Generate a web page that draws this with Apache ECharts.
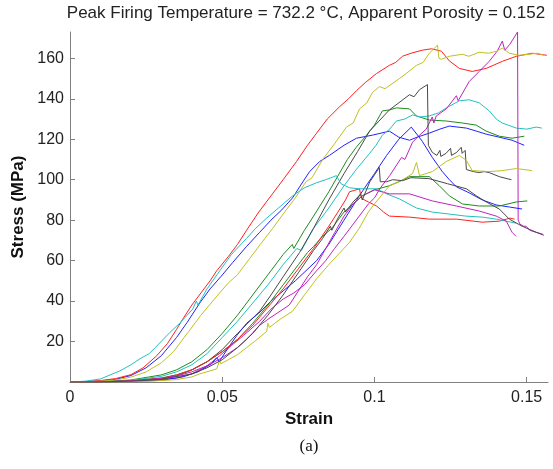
<!DOCTYPE html>
<html><head><meta charset="utf-8">
<script src="https://cdn.jsdelivr.net/npm/echarts@6/dist/echarts.min.js"></script>
<style>html,body{margin:0;padding:0;background:#fff}#c{width:553px;height:469px}</style>
</head><body><div id="c"></div>
<script>
const titleText = 'Peak Firing Temperature = 732.2 \u00B0C, Apparent Porosity = 0.152';
const xName = 'Strain';
const yName = 'Stress (MPa)';
const panelLabel = '(a)';
const xTicks = [0, 0.05, 0.1, 0.15];
const yTicks = [20, 40, 60, 80, 100, 120, 140, 160];

// [strain, stress] pairs
const blueA = [[0,0],[0.005,0.2],[0.01,0.5],[0.015,1.3],[0.02,3.2],[0.025,7],[0.03,13],[0.035,22],[0.0385,29.5],[0.0426,39],[0.046,46],[0.0495,52],[0.0534,59],[0.058,67],[0.0623,74],[0.066,80],[0.0695,85],[0.0731,91],[0.0765,99],[0.0787,104],[0.082,109],[0.0852,112],[0.09,117],[0.0941,120.5],[0.0993,122],[0.1049,124],[0.108,121],[0.1115,119.5],[0.114,121],[0.118,123],[0.1215,125],[0.1246,126.5],[0.1302,125.5],[0.1335,124],[0.1367,122.5],[0.141,121],[0.1452,119.5],[0.1492,117]];
const greenA = [[0,0],[0.01,0.2],[0.02,1],[0.03,3.5],[0.035,6],[0.04,10],[0.045,16],[0.05,24],[0.055,33],[0.06,43],[0.065,53],[0.07,63],[0.073,68],[0.0735,66],[0.077,75],[0.08,82],[0.085,94],[0.0911,110],[0.094,116],[0.0974,122],[0.1,127],[0.1026,134],[0.105,134.5],[0.1072,135.5],[0.1115,135],[0.1138,131.5],[0.118,129.5],[0.1236,129],[0.1289,128],[0.1334,127],[0.1367,124],[0.141,121.5],[0.1452,120.5],[0.1492,121.5]];
const redA = [[0,0],[0.005,0.2],[0.01,0.7],[0.015,1.7],[0.02,3.6],[0.024,7],[0.0285,13],[0.032,19],[0.035,26],[0.037,31],[0.04,38],[0.043,44],[0.046,50],[0.0482,55],[0.052,62],[0.055,68],[0.058,75],[0.062,84],[0.066,92],[0.07,100],[0.0744,109],[0.078,117],[0.081,123],[0.0845,130],[0.0885,136],[0.0915,140],[0.0941,144],[0.097,148],[0.1007,152.5],[0.1049,156.5],[0.107,158],[0.1092,161],[0.112,162.5],[0.1157,164],[0.1187,164.7],[0.122,163.5],[0.1246,158.7],[0.1279,155],[0.1321,153.5],[0.1367,155],[0.142,158.5],[0.1466,161],[0.1518,162.5],[0.1566,161.5]];
const cyanA = [[0,0],[0.01,0.2],[0.02,0.8],[0.03,2.8],[0.035,5],[0.04,8.5],[0.045,14],[0.05,22],[0.055,30],[0.06,39],[0.065,48],[0.07,58],[0.0745,66],[0.076,65],[0.08,76],[0.085,86],[0.09,97],[0.094,105],[0.0984,113],[0.1005,117],[0.1026,122],[0.105,125],[0.1072,129],[0.11,130],[0.1125,132],[0.115,131],[0.118,131.5],[0.121,133],[0.1236,135.5],[0.1279,139],[0.1311,139.5],[0.1344,138],[0.1377,134],[0.14,130],[0.142,128],[0.1466,125.5],[0.15,125],[0.1531,126],[0.155,125.5]];
const magentaA = [[0,0],[0.01,0.1],[0.02,0.5],[0.03,1.2],[0.035,2],[0.04,4],[0.045,8],[0.0492,13],[0.053,18],[0.057,23],[0.0623,30],[0.066,36],[0.07,41],[0.0735,44],[0.077,48],[0.081,55],[0.084,60],[0.0869,66],[0.09,72],[0.094,80],[0.098,88],[0.1,91],[0.102,96],[0.105,102],[0.1089,111],[0.11,110],[0.1125,118.5],[0.1148,122],[0.117,125],[0.119,131],[0.1195,128],[0.1203,131.5],[0.1236,135],[0.1269,141.5],[0.1275,139],[0.1311,148.5],[0.1344,153.5],[0.1377,158.5],[0.1403,163.5],[0.142,168.5],[0.1428,164],[0.1445,167],[0.147,173],[0.1472,80],[0.1478,78],[0.149,77],[0.1498,77],[0.151,75],[0.1531,74],[0.1557,72.5]];
const yellowA = [[0,0],[0.005,0.1],[0.01,0.4],[0.015,1],[0.02,2.4],[0.025,5],[0.03,9.5],[0.034,15],[0.039,25],[0.043,33],[0.048,42],[0.052,49],[0.055,53],[0.059,61],[0.0625,68],[0.0666,76],[0.07,83],[0.074,91],[0.0775,99],[0.0795,101],[0.083,110],[0.087,118],[0.0908,126],[0.093,128],[0.0951,135],[0.0975,138],[0.0993,143],[0.1016,146],[0.1035,145],[0.1082,150],[0.11,152],[0.1138,156.5],[0.116,158],[0.118,162.5],[0.1207,166.5],[0.1212,160],[0.122,159.5],[0.1246,161],[0.1289,162],[0.131,161],[0.1344,163],[0.1375,162.5],[0.14,163.5],[0.142,165],[0.1443,162.5],[0.1475,161.5],[0.1508,162],[0.1535,162.5],[0.1556,161.5]];
const grayA = [[0,0],[0.01,0.1],[0.02,0.4],[0.03,1.5],[0.035,3],[0.04,6],[0.045,10],[0.05,16],[0.055,24],[0.0623,35],[0.066,43],[0.07,52],[0.0754,64],[0.08,76],[0.085,90],[0.09,103],[0.0945,114],[0.0984,124],[0.1015,129],[0.1049,134.5],[0.108,138],[0.1115,142],[0.113,141],[0.1148,144.5],[0.1174,147],[0.1177,117],[0.119,113.5],[0.1205,112],[0.1215,114.5],[0.1218,111.5],[0.1235,113],[0.125,115.5],[0.1253,112],[0.127,113.5],[0.1285,116],[0.1288,113],[0.1298,114.5],[0.1302,105],[0.1325,104],[0.1344,103.5],[0.136,104],[0.1377,103.5],[0.141,101.5],[0.1436,100.5],[0.145,100]];
const blueB = [[0,0],[0.01,0.1],[0.02,0.3],[0.03,0.8],[0.037,2.5],[0.042,5],[0.0465,9],[0.0482,12],[0.049,10],[0.052,17],[0.0548,23],[0.058,29],[0.062,34],[0.066,40],[0.07,45],[0.074,50],[0.0775,55],[0.081,60],[0.085,68],[0.09,80],[0.095,92],[0.1,103],[0.104,112],[0.108,120],[0.1121,126],[0.1157,119],[0.119,111],[0.1223,104],[0.1246,100],[0.1269,96.5],[0.1311,93.5],[0.1354,90],[0.14,87.5],[0.1443,86.5],[0.1485,85.5]];
const greenB = [[0,0],[0.01,0.1],[0.02,0.6],[0.03,2],[0.035,3.5],[0.04,6],[0.045,10],[0.05,15],[0.055,21],[0.06,29],[0.065,38],[0.07,48],[0.075,58],[0.078,64],[0.08,67],[0.083,72],[0.086,76],[0.088,80],[0.09,84],[0.093,88],[0.096,92],[0.1,95],[0.1049,97],[0.108,99],[0.1115,101.5],[0.118,101.5],[0.1213,97],[0.1246,92],[0.1289,88],[0.1344,87],[0.141,87],[0.1466,89],[0.1502,89.5]];
const redB = [[0,0],[0.01,0.1],[0.02,0.5],[0.03,1.8],[0.035,3.5],[0.04,6],[0.045,10],[0.05,15],[0.055,21],[0.06,28],[0.065,37],[0.07,46],[0.075,56],[0.08,66],[0.085,77],[0.088,84],[0.0905,90],[0.0918,94],[0.0951,95.5],[0.0955,92],[0.0961,90.5],[0.098,89],[0.1007,87],[0.103,84],[0.1049,82],[0.1115,81.5],[0.118,80.5],[0.1269,80.5],[0.1354,79],[0.141,79.5],[0.1445,81],[0.146,80.5]];
const cyanB = [[0,0],[0.005,0.4],[0.01,1.5],[0.0164,5.5],[0.02,8.5],[0.023,11.5],[0.026,14],[0.028,17],[0.0328,24.5],[0.036,29],[0.0403,36],[0.0415,40],[0.042,38],[0.045,46],[0.0492,55],[0.053,63],[0.058,71],[0.061,76],[0.0646,81],[0.07,88],[0.0731,92],[0.077,96],[0.081,98.5],[0.084,100],[0.0875,102],[0.089,98],[0.0918,96],[0.095,95.5],[0.1007,95.5],[0.104,93],[0.1082,90.5],[0.1138,86],[0.119,84],[0.1246,83],[0.13,82],[0.1354,81.5],[0.14,80.5],[0.1433,79.5],[0.1465,78.5]];
const magentaB = [[0,0],[0.01,0.1],[0.02,0.5],[0.03,1.8],[0.035,3],[0.04,5],[0.045,8],[0.05,12],[0.055,17],[0.058,21],[0.0623,28],[0.065,31],[0.068,34],[0.072,38],[0.075,45],[0.078,52],[0.081,58],[0.084,66],[0.087,74],[0.09,82],[0.093,88],[0.096,92],[0.1,95],[0.1049,93],[0.1115,93],[0.119,89.5],[0.1269,87],[0.1344,84.5],[0.14,82],[0.1433,79.5],[0.1452,74],[0.1465,72]];
const yellowB = [[0,0],[0.01,0.05],[0.02,0.2],[0.03,0.7],[0.035,1.2],[0.04,2.5],[0.0426,4],[0.046,5.5],[0.0482,6.5],[0.0492,11],[0.0495,9],[0.052,11],[0.055,13.5],[0.058,17],[0.061,20.5],[0.0646,25],[0.065,29],[0.0655,27],[0.069,31],[0.0731,35],[0.077,43],[0.081,51],[0.085,58],[0.0918,69],[0.095,76],[0.098,84],[0.1,88],[0.1049,97],[0.1082,99],[0.1125,103],[0.1138,108.5],[0.1148,102],[0.119,104],[0.1236,109],[0.1279,112],[0.1302,109.5],[0.1321,104.5],[0.1377,104],[0.142,104.5],[0.1466,105.5],[0.1518,104.5]];
const grayB = [[0,0],[0.01,0.1],[0.02,0.4],[0.03,1.3],[0.04,4],[0.045,7],[0.05,11],[0.055,17],[0.06,24],[0.065,33],[0.07,43],[0.075,54],[0.08,65],[0.083,71],[0.0855,77],[0.086,75],[0.088,81],[0.09,86],[0.0905,84],[0.093,89],[0.0955,93],[0.096,90],[0.0985,99],[0.1016,106],[0.1019,99],[0.104,99],[0.106,100],[0.1092,99.5],[0.112,101],[0.118,100.5],[0.124,98],[0.1302,95.5],[0.1335,92],[0.1367,89],[0.141,85.5],[0.1443,80.5],[0.1485,77],[0.1531,74],[0.1553,73]];

const curves = [blueA, greenA, redA, cyanA, magentaA, yellowA, grayA, blueB, greenB, redB, cyanB, magentaB, yellowB, grayB];
const colors = ['#2222ff', '#1e8c1e', '#ff2020', '#22c0c0', '#c022c0', '#c0c022', '#484848'];

const chart = echarts.init(document.getElementById('c'), null, {renderer: 'canvas'});
const FONT = '"Liberation Sans", Arial, sans-serif';
chart.setOption({
  animation: false,
  backgroundColor: '#fff',
  grid: {left: 70, right: 5, top: 32, bottom: 87, containLabel: false},
  xAxis: {
    type: 'value', min: 0, max: 0.157, interval: 0.05,
    name: xName, nameLocation: 'middle', nameGap: 23,
    nameTextStyle: {fontFamily: FONT, fontSize: 17, fontWeight: 'bold', color: '#111'},
    axisLine: {show: true, onZero: false, lineStyle: {color: '#808080', width: 1}},
    axisTick: {show: true, inside: true, length: 5, customValues: xTicks, lineStyle: {color: '#808080'}},
    axisLabel: {customValues: xTicks, margin: 8, fontFamily: FONT, fontSize: 16, color: '#222', formatter: v => String(v)},
    splitLine: {show: false}
  },
  yAxis: {
    type: 'value', min: 0, max: 173, interval: 20,
    name: yName, nameLocation: 'middle', nameGap: 42, nameRotate: 90,
    nameTextStyle: {fontFamily: FONT, fontSize: 17, fontWeight: 'bold', color: '#111'},
    axisLine: {show: true, onZero: false, lineStyle: {color: '#808080', width: 1}},
    axisTick: {show: true, inside: true, length: 5, customValues: yTicks, lineStyle: {color: '#808080'}},
    axisLabel: {customValues: yTicks, margin: 6, fontFamily: FONT, fontSize: 16, color: '#222'},
    splitLine: {show: false}
  },
  graphic: [
    {type: 'text', x: 306, y: 13, style: {text: titleText, font: '17px ' + FONT, fill: '#222', align: 'center', verticalAlign: 'middle', textAlign: 'center', textVerticalAlign: 'middle'}},
    {type: 'text', x: 309, y: 447, style: {text: panelLabel, font: '17px "Liberation Serif", "Times New Roman", serif', fill: '#111', align: 'center', verticalAlign: 'middle', textAlign: 'center', textVerticalAlign: 'middle'}}
  ],
  series: curves.map((d, i) => ({
    type: 'line', data: d, showSymbol: false, symbol: 'none', smooth: false,
    lineStyle: {color: colors[i % 7], width: 1},
    itemStyle: {color: colors[i % 7]},
    emphasis: {disabled: true}, silent: true, z: 2
  }))
});
</script></body></html>
